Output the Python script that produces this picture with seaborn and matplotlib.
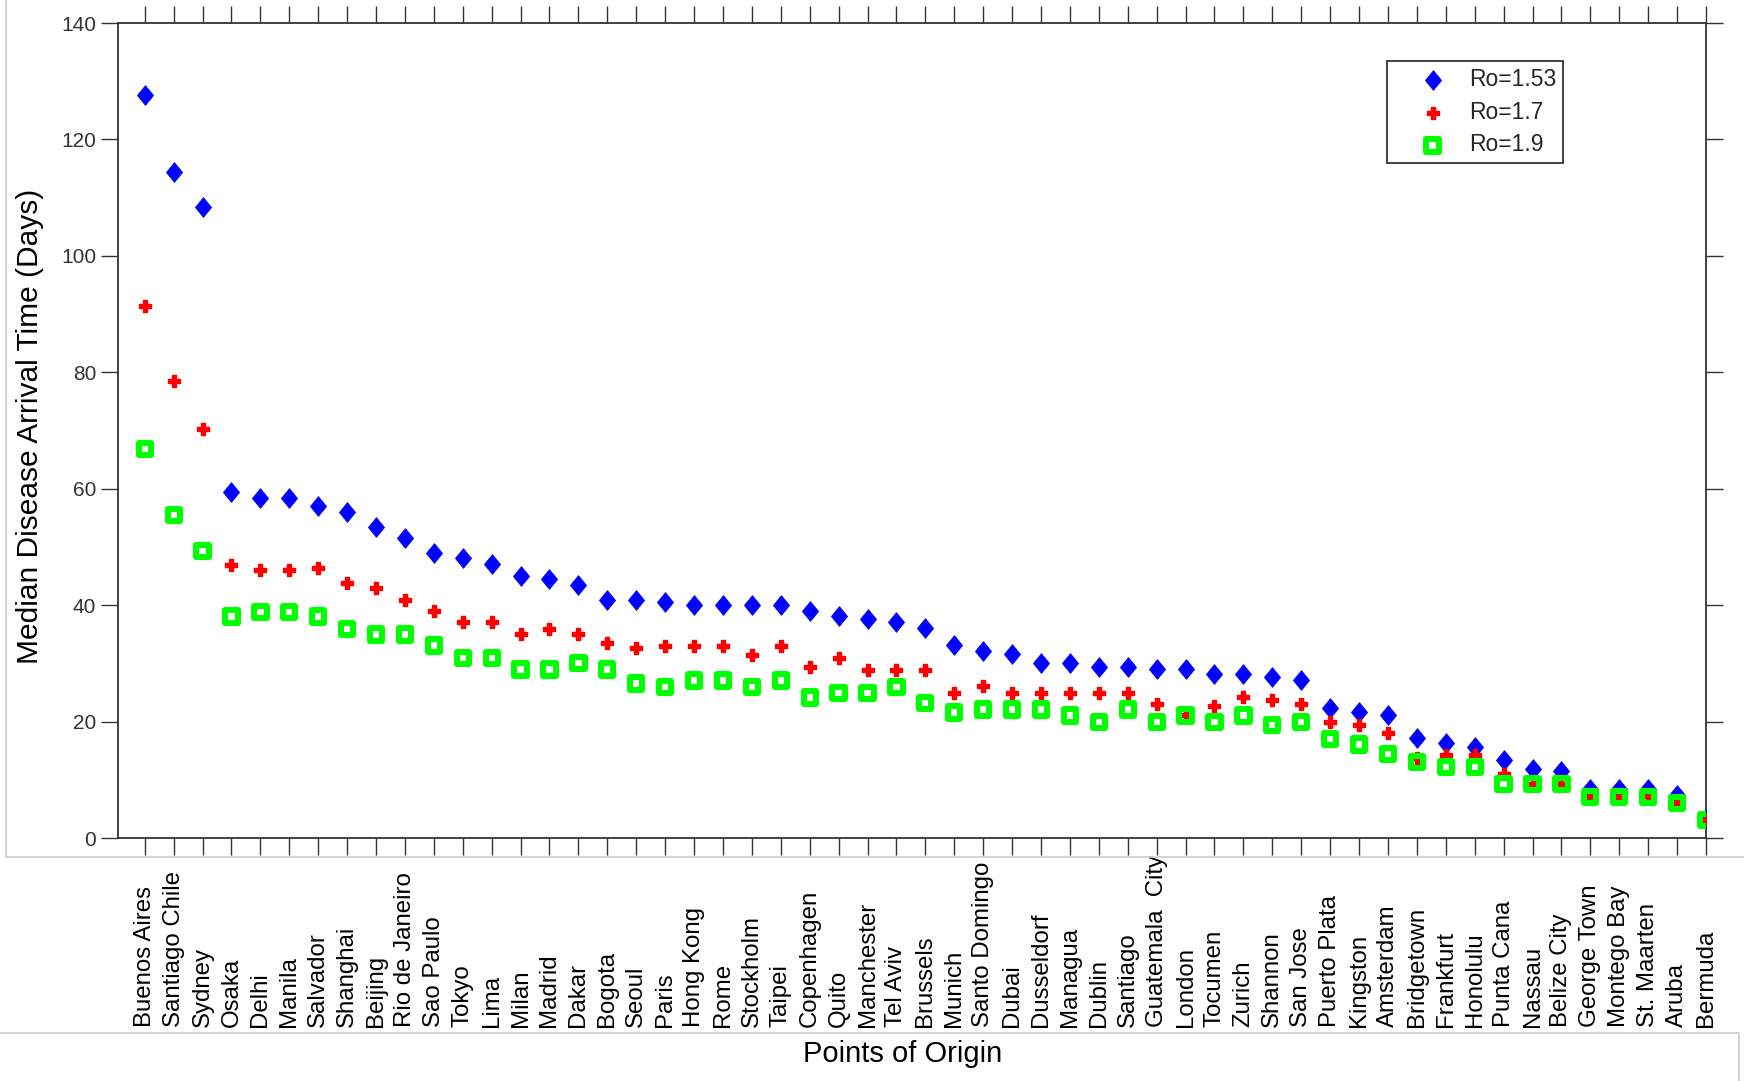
import numpy as np
import pandas as pd
import seaborn as sns
import matplotlib
matplotlib.use('Agg')
import matplotlib.pyplot as plt
from matplotlib.lines import Line2D

## data
cities = ['Buenos Aires', 'Santiago Chile', 'Sydney', 'Osaka', 'Delhi', 'Manila',
          'Salvador', 'Shanghai', 'Beijing', 'Rio de Janeiro', 'Sao Paulo', 'Tokyo',
          'Lima', 'Milan', 'Madrid', 'Dakar', 'Bogota', 'Seoul', 'Paris', 'Hong Kong',
          'Rome', 'Stockholm', 'Taipei', 'Copenhagen', 'Quito', 'Manchester', 'Tel Aviv',
          'Brussels', 'Munich', 'Santo Domingo', 'Dubai', 'Dusseldorf', 'Managua',
          'Dublin', 'Santiago', 'Guatemala  City', 'London', 'Tocumen', 'Zurich',
          'Shannon', 'San Jose', 'Puerto Plata', 'Kingston', 'Amsterdam', 'Bridgetown',
          'Frankfurt', 'Honolulu', 'Punta Cana', 'Nassau', 'Belize City', 'George Town',
          'Montego Bay', 'St. Maarten', 'Aruba', 'Bermuda']

ro_153 = [127.6, 114.5, 108.4, 59.5, 58.5, 58.5, 57.1, 56.1, 53.4, 51.6, 49.0, 48.2,
          47.1, 45.1, 44.5, 43.5, 41.0, 41.0, 40.6, 40.0, 40.0, 40.0, 40.1, 39.0,
          38.2, 37.6, 37.2, 36.2, 33.2, 32.2, 31.6, 30.1, 30.1, 29.5, 29.5, 29.1,
          29.0, 28.2, 28.2, 27.7, 27.2, 22.3, 21.7, 21.1, 17.3, 16.3, 15.7, 13.4,
          11.9, 11.5, 8.4, 8.4, 8.4, 7.4, 3.3]

ro_17 = [91.4, 78.6, 70.3, 47.0, 46.0, 46.0, 46.5, 43.8, 43.0, 41.0, 39.0, 37.1,
         37.1, 35.0, 36.0, 35.0, 33.6, 32.7, 33.1, 33.1, 33.1, 31.5, 33.1, 29.5,
         31.0, 28.9, 28.9, 28.9, 25.0, 26.1, 25.0, 25.0, 25.0, 25.0, 25.0, 23.1,
         21.1, 22.7, 24.3, 23.7, 23.1, 20.0, 19.4, 18.1, 13.8, 14.3, 14.3, 11.1,
         9.3, 9.3, 7.1, 7.1, 7.2, 6.1, 3.2]

ro_19 = [66.8, 55.5, 49.4, 38.1, 38.9, 38.9, 38.1, 35.9, 35.0, 35.0, 33.1, 31.0,
         31.0, 29.0, 29.0, 30.1, 29.0, 26.6, 26.0, 27.1, 27.1, 26.0, 27.1, 24.2,
         25.0, 25.0, 26.0, 23.2, 21.6, 22.1, 22.1, 22.1, 21.1, 20.0, 22.1, 20.0,
         21.1, 20.0, 21.1, 19.4, 20.0, 17.1, 16.1, 14.5, 13.1, 12.2, 12.2, 9.3,
         9.3, 9.3, 7.1, 7.1, 7.1, 6.1, 3.2]

y_ticks = [0, 20, 40, 60, 80, 100, 120, 140]

## fat diamond marker (wider than matplotlib's 'd')
diamond = [(0, 1), (0.82, 0), (0, -1), (-0.82, 0), (0, 1)]

################################################
def main():
  sns.set_theme(style='ticks')
  plt.rcParams['font.family'] = ['Liberation Sans', 'DejaVu Sans']
  narrow = ['Liberation Sans Narrow', 'Liberation Sans', 'DejaVu Sans']

  df = pd.DataFrame({'city': cities, 'r153': ro_153, 'r17': ro_17, 'r19': ro_19})

  fig = plt.figure(figsize=(17.44, 10.81), dpi=100)
  ax = fig.add_axes([0.0674, 0.2245, 0.9108, 0.7542])

  sns.scatterplot(data=df, x='city', y='r153', ax=ax, marker=diamond, s=200,
                  color='#0000ff', edgecolor='#0000ff', linewidth=0.6,
                  label='Ro=1.53', zorder=3)
  sns.scatterplot(data=df, x='city', y='r17', ax=ax, marker='P', s=75,
                  color='#ff0000', edgecolor='#ff0000', linewidth=1.0,
                  label='Ro=1.7', zorder=4)
  sns.scatterplot(data=df, x='city', y='r19', ax=ax, marker='s', s=78,
                  color='#00ff00', facecolor='none', edgecolor='#00ff00',
                  linewidth=4.4, label='Ro=1.9', zorder=5)

  ## axes limits / ticks
  ax.set_xlim(-0.94, len(cities) - 1)
  ax.set_ylim(0, 140)
  ax.set_yticks(y_ticks)
  ax.set_yticklabels([str(v) for v in y_ticks], family=narrow, fontsize=15,
                     color='#333333')
  ax.tick_params(axis='both', direction='out', length=12, width=1.0,
                 color='#333333', top=True, right=True)
  ax.tick_params(axis='x', pad=124)
  for lab in ax.get_xticklabels():
    lab.set_rotation(90)
    lab.set_va('bottom')
    lab.set_ha('center')
    lab.set_fontsize(17.3)
    lab.set_color('black')

  for sp in ax.spines.values():
    sp.set_color('#333333')
    sp.set_linewidth(1.3)
  ax.set_facecolor('white')

  ## labels
  ax.set_ylabel('Median Disease Arrival Time (Days)', fontsize=21.5, color='black')
  ax.yaxis.set_label_coords(-0.046, 0.505)
  ax.set_xlabel('Points of Origin', fontsize=21, family=narrow, color='black',
                va='center')
  ax.xaxis.set_label_coords(0.494, -0.264)

  ## legend
  leg = ax.legend(loc='upper left', bbox_to_anchor=(0.799, 0.953),
                  borderaxespad=0, frameon=True, fancybox=False, shadow=False,
                  prop={'family': narrow, 'size': 16.5}, handletextpad=-0.1,
                  labelspacing=0.42, borderpad=0.3, handlelength=3.4)
  leg.get_frame().set_edgecolor('#222222')
  leg.get_frame().set_linewidth(1.2)
  leg.get_frame().set_alpha(1)

  ## light grey frames of the original screenshot
  gc = '#cccccc'
  fig.add_artist(Line2D([0.0034, 0.0034], [0.2072, 1.0], transform=fig.transFigure,
                        color=gc, lw=1.2))
  fig.add_artist(Line2D([0.0034, 1.0], [0.2072, 0.2072], transform=fig.transFigure,
                        color=gc, lw=1.2))
  fig.add_artist(Line2D([0.0, 0.9971, 0.9971], [0.0444, 0.0444, 0.0],
                        transform=fig.transFigure, color=gc, lw=1.2))

  fig.savefig('out.png', dpi=100, facecolor='white')


######################################################################
if __name__ == '__main__':
  main()
